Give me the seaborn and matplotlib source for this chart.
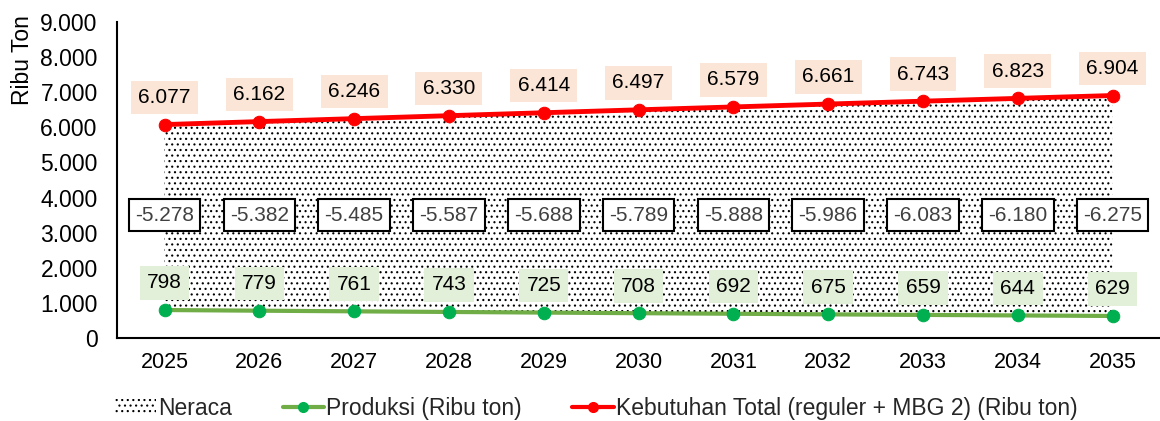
import matplotlib
matplotlib.use("Agg")
import matplotlib.pyplot as plt
import seaborn as sns
import numpy as np
import pandas as pd
from matplotlib.patches import Patch
from matplotlib.lines import Line2D

years = ["2025", "2026", "2027", "2028", "2029", "2030", "2031", "2032", "2033", "2034", "2035"]
produksi = [798, 779, 761, 743, 725, 708, 692, 675, 659, 644, 629]
kebutuhan = [6077, 6162, 6246, 6330, 6414, 6497, 6579, 6661, 6743, 6823, 6904]
neraca = [-5278, -5382, -5485, -5587, -5688, -5789, -5888, -5986, -6083, -6180, -6275]

sns.set_theme(style="white")
plt.rcParams['font.family'] = ['Liberation Sans', 'DejaVu Sans']
plt.rcParams['hatch.linewidth'] = 0.8

def fmt(v):
    s = f"{abs(v):,}".replace(",", ".")
    return ("-" if v < 0 else "") + s

df = pd.DataFrame({"x": np.arange(len(years)), "produksi": produksi, "kebutuhan": kebutuhan})

fig = plt.figure(figsize=(11.6, 4.21), dpi=100)
ax = fig.add_axes([0.101, 0.197, 0.899, 0.751])

ax.fill_between(df["x"], df["produksi"], df["kebutuhan"], facecolor="white",
                edgecolor="black", hatch="...", linewidth=0, zorder=1)
sns.lineplot(data=df, x="x", y="produksi", ax=ax, color="#70AD47", linewidth=3,
             marker="o", markersize=9, markerfacecolor="#00B050", markeredgecolor="#00B050", zorder=3)
sns.lineplot(data=df, x="x", y="kebutuhan", ax=ax, color="#FF0000", linewidth=3.5,
             marker="o", markersize=9, markerfacecolor="#FF0000", markeredgecolor="#FF0000", zorder=3)

for i in range(len(years)):
    ax.annotate(fmt(kebutuhan[i]), (i, kebutuhan[i]), xytext=(0, 19.5), textcoords="offset points",
                ha="center", va="center", fontsize=15, color="black",
                bbox=dict(boxstyle="square,pad=0.35", fc="#FBE5D6", ec="none"), zorder=5)
    ax.annotate(fmt(produksi[i]), (i, produksi[i]), xytext=(0, 19.5), textcoords="offset points",
                ha="center", va="center", fontsize=15, color="black",
                bbox=dict(boxstyle="square,pad=0.35", fc="#E2F0D9", ec="none"), zorder=5)
    ax.text(i, 3500, fmt(neraca[i]), ha="center", va="center", fontsize=15, color="#404040",
            bbox=dict(boxstyle="square,pad=0.3", fc="white", ec="black", lw=1.5), zorder=5)

ax.set_xlim(-0.5, 10.5)
ax.set_ylim(0, 9000)
ax.set_xticks(range(len(years)))
ax.set_xticklabels(years)
yt = np.arange(0, 9001, 1000)
ax.set_yticks(yt)
ax.set_yticklabels([fmt(int(v)) for v in yt])
ax.tick_params(axis="y", labelsize=16.5, colors="black", length=0, pad=14)
ax.tick_params(axis="x", labelsize=15.5, colors="black", length=0, pad=10)
ax.set_xlabel("")
ax.set_ylabel("Ribu Ton", fontsize=16.5, color="black", loc="top")
ax.yaxis.set_label_coords(-0.08, 1.02)
for s in ["top", "right"]:
    ax.spines[s].set_visible(False)
for s in ["left", "bottom"]:
    ax.spines[s].set_color("black")
    ax.spines[s].set_linewidth(1.5)
ax.grid(False)

handles = [
    Patch(facecolor="white", edgecolor="black", hatch="...", linewidth=0, label="Neraca"),
    Line2D([0], [0], color="#70AD47", lw=3, marker="o", markersize=7, markerfacecolor="#00B050",
           markeredgecolor="#00B050", label="Produksi (Ribu ton)"),
    Line2D([0], [0], color="#FF0000", lw=3, marker="o", markersize=7, markerfacecolor="#FF0000",
           markeredgecolor="#FF0000", label="Kebutuhan Total (reguler + MBG 2) (Ribu ton)"),
]
fig.legend(handles=handles, loc="center", bbox_to_anchor=(0.514, 0.03), ncol=3, frameon=False,
           fontsize=16.5, handlelength=1.8, handletextpad=0.1, columnspacing=2.2)

fig.savefig("out.png", dpi=100)
